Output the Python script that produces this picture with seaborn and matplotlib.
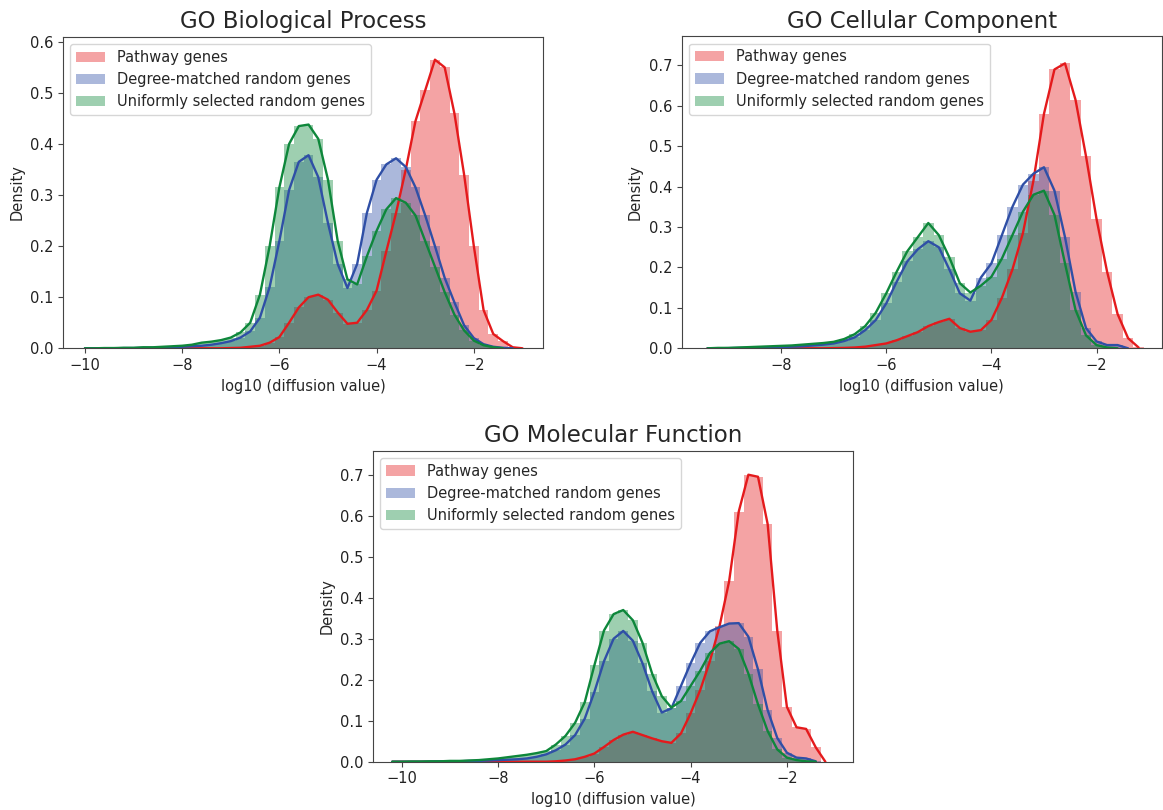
import numpy as np
import pandas as pd
import matplotlib.pyplot as plt
import seaborn as sns

nan = np.nan

# bin centres shared by all panels (log10 diffusion value)
bin_centers = np.round(np.arange(-10.2, -0.7, 0.2), 1)
bin_edges = list(np.append(bin_centers - 0.1, bin_centers[-1] + 0.1))

labels = ["Pathway genes", "Degree-matched random genes", "Uniformly selected random genes"]
colors = ["#e41a1c", "#2f4fa6", "#0e873b"]

# GO Biological Process
bp_pathway = [nan, 0, 0, 0, 0, 0, 0, 0, 0, 0, 0, 0,
              0, 0, 0, 0, 0.0005, 0.001, 0.003, 0.005, 0.011, 0.022,
              0.05, 0.08, 0.1, 0.105, 0.095, 0.07, 0.048, 0.05, 0.075, 0.113,
              0.19, 0.265, 0.35, 0.445, 0.505, 0.565, 0.55, 0.46, 0.34, 0.2,
              0.075, 0.028, 0.014, 0.002, 0.0, nan]
bp_degree = [nan, 0, 0, 0, 0, 0.0005, 0.0005, 0.001, 0.001, 0.001, 0.002, 0.003,
             0.004, 0.005, 0.007, 0.01, 0.014, 0.021, 0.033, 0.06, 0.12, 0.21,
             0.31, 0.365, 0.378, 0.335, 0.245, 0.165, 0.118, 0.165, 0.265, 0.33,
             0.36, 0.372, 0.355, 0.315, 0.26, 0.2, 0.138, 0.09, 0.045, 0.02,
             0.008, 0.003, 0.001, 0.0, nan, nan]
bp_uniform = [nan, 0, 0, 0.0005, 0.0005, 0.001, 0.001, 0.002, 0.002, 0.003, 0.004, 0.005,
              0.007, 0.011, 0.013, 0.016, 0.021, 0.031, 0.05, 0.105, 0.2, 0.315,
              0.4, 0.435, 0.438, 0.41, 0.33, 0.21, 0.135, 0.125, 0.18, 0.23,
              0.272, 0.294, 0.285, 0.26, 0.21, 0.16, 0.11, 0.066, 0.035, 0.015,
              0.006, 0.002, 0.0, nan, nan, nan]

# GO Cellular Component
cc_pathway = [nan, nan, nan, nan, 0, 0, 0, 0, 0, 0, 0, 0,
              0, 0, 0, 0, 0.0005, 0.001, 0.002, 0.004, 0.008, 0.012,
              0.02, 0.03, 0.04, 0.055, 0.065, 0.073, 0.05, 0.041, 0.045, 0.07,
              0.125, 0.195, 0.285, 0.415, 0.58, 0.69, 0.705, 0.615, 0.475, 0.32,
              0.19, 0.085, 0.025, 0.002, nan, nan]
cc_degree = [nan, nan, nan, nan, 0, 0, 0.0005, 0.001, 0.001, 0.002, 0.002, 0.003,
             0.004, 0.005, 0.007, 0.009, 0.012, 0.018, 0.027, 0.045, 0.07, 0.111,
             0.165, 0.215, 0.245, 0.265, 0.25, 0.195, 0.136, 0.118, 0.175, 0.21,
             0.28, 0.35, 0.405, 0.432, 0.448, 0.39, 0.275, 0.14, 0.05, 0.017,
             0.008, 0.008, 0.0, nan, nan, nan]
cc_uniform = [nan, nan, nan, nan, 0, 0.001, 0.001, 0.002, 0.003, 0.004, 0.005, 0.006,
              0.007, 0.009, 0.011, 0.013, 0.016, 0.023, 0.035, 0.055, 0.088, 0.136,
              0.19, 0.24, 0.275, 0.31, 0.28, 0.225, 0.161, 0.138, 0.155, 0.177,
              0.222, 0.28, 0.338, 0.38, 0.39, 0.33, 0.21, 0.095, 0.032, 0.008,
              0.002, 0.0, nan, nan, nan, nan]

# GO Molecular Function
mf_pathway = [0, 0, 0, 0, 0, 0, 0, 0, 0, 0, 0, 0,
              0, 0, 0, 0, 0, 0.001, 0.003, 0.006, 0.012, 0.02,
              0.036, 0.053, 0.066, 0.073, 0.065, 0.057, 0.05, 0.046, 0.069, 0.118,
              0.175, 0.245, 0.33, 0.44, 0.61, 0.70, 0.695, 0.58, 0.32, 0.134,
              0.084, 0.08, 0.035, 0.0, nan, nan]
mf_degree = [0, 0, 0, 0, 0.0005, 0.001, 0.001, 0.001, 0.002, 0.002, 0.003, 0.004,
             0.005, 0.006, 0.008, 0.012, 0.018, 0.028, 0.042, 0.065, 0.105, 0.17,
             0.245, 0.3, 0.319, 0.295, 0.24, 0.172, 0.12, 0.13, 0.185, 0.24,
             0.29, 0.318, 0.328, 0.337, 0.338, 0.305, 0.225, 0.126, 0.058, 0.022,
             0.01, 0.008, 0.001, nan, nan, nan]
mf_uniform = [0, 0, 0.0005, 0.0005, 0.001, 0.001, 0.002, 0.002, 0.003, 0.004, 0.006, 0.008,
              0.011, 0.014, 0.017, 0.021, 0.026, 0.042, 0.063, 0.095, 0.145, 0.235,
              0.32, 0.36, 0.37, 0.345, 0.29, 0.215, 0.16, 0.132, 0.148, 0.185,
              0.222, 0.265, 0.288, 0.294, 0.275, 0.215, 0.14, 0.075, 0.03, 0.01,
              0.004, 0.001, 0.0, nan, nan, nan]

sns.set_style("ticks")
plt.rcParams['font.family'] = ['DejaVu Sans']
plt.rcParams['axes.edgecolor'] = '#444444'
plt.rcParams['xtick.color'] = '#444444'
plt.rcParams['ytick.color'] = '#444444'
plt.rcParams['xtick.labelcolor'] = '#222222'
plt.rcParams['ytick.labelcolor'] = '#222222'

fig = plt.figure(figsize=(11.63, 8.10), dpi=100)
ax1 = fig.add_axes([0.0542, 0.570, 0.413, 0.3847])
ax2 = fig.add_axes([0.5862, 0.570, 0.4127, 0.3852])
ax3 = fig.add_axes([0.3207, 0.0596, 0.4130, 0.3842])


def draw_panel(ax, series, title, xlim, ylim):
    for values, label, color in zip(series, labels, colors):
        df = pd.DataFrame({'x': bin_centers, 'density': values}).dropna()
        sns.histplot(data=df, x='x', weights='density', bins=bin_edges, stat='count',
                     color=color, alpha=0.4, linewidth=0, label=label, ax=ax)
        sns.lineplot(data=df, x='x', y='density', color=color, linewidth=1.7,
                     zorder=5, ax=ax)
    ax.set_xlim(*xlim)
    ax.set_ylim(*ylim)
    ax.set_title(title, fontsize=16.5)
    ax.set_xlabel('log10 (diffusion value)', fontsize=10.5)
    ax.set_ylabel('Density', fontsize=10.5)
    ax.tick_params(labelsize=10.5)
    ax.legend(loc='upper left', fontsize=10.5)


draw_panel(ax1, [bp_pathway, bp_degree, bp_uniform], 'GO Biological Process',
           (-10.45, -0.57), (0, 0.61))
draw_panel(ax2, [cc_pathway, cc_degree, cc_uniform], 'GO Cellular Component',
           (-9.89, -0.76), (0, 0.772))
draw_panel(ax3, [mf_pathway, mf_degree, mf_uniform], 'GO Molecular Function',
           (-10.6, -0.62), (0, 0.759))
ax1.set_xticks([-10, -8, -6, -4, -2])
ax2.set_xticks([-8, -6, -4, -2])
ax3.set_xticks([-10, -8, -6, -4, -2])

plt.savefig('out.png', dpi=100)
